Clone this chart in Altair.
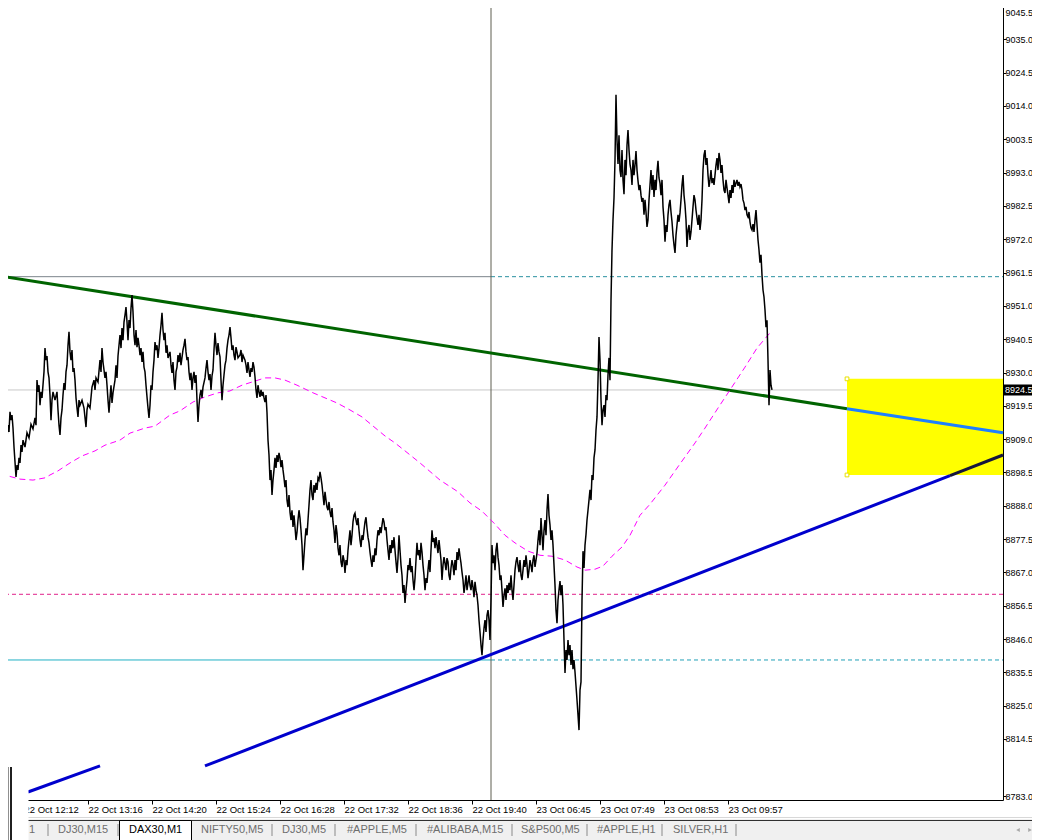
import altair as alt
import pandas as pd

# ---------------- data ----------------
# DAX30 M1 close prices: (bar index, price)
M1_CLOSE = [
    (0, 8909.4), (1, 8905.0), (2, 8907.4), (3, 8906.2), (4, 8910.0), (5, 8908.1), (6, 8911.9), (7, 8909.7),
    (8, 8913.4), (9, 8911.3), (10, 8917.6), (11, 8915.0), (12, 8916.6), (13, 8912.5), (14, 8906.5), (15, 8901.8),
    (16, 8897.1), (17, 8900.8), (18, 8899.3), (19, 8903.1), (20, 8901.5), (21, 8907.1), (22, 8905.0), (23, 8908.7),
    (25, 8906.5), (27, 8911.0), (29, 8909.4), (31, 8913.7), (33, 8912.2), (35, 8915.7), (36, 8913.4), (37, 8927.6),
    (38, 8923.9), (39, 8926.0), (40, 8919.7), (41, 8923.9), (42, 8922.0), (44, 8930.2), (45, 8937.7), (46, 8933.9),
    (47, 8935.2), (48, 8930.2), (49, 8928.3), (50, 8922.9), (51, 8915.0), (52, 8921.3), (53, 8923.9), (55, 8921.3),
    (57, 8923.9), (58, 8918.2), (59, 8913.4), (60, 8910.3), (61, 8915.7), (62, 8918.2), (63, 8922.9), (64, 8926.7),
    (65, 8924.5), (66, 8930.2), (67, 8932.3), (68, 8938.6), (69, 8942.8), (70, 8936.5), (71, 8933.9), (72, 8937.1),
    (73, 8930.2), (74, 8931.4), (75, 8927.6), (76, 8922.0), (77, 8918.8), (78, 8916.0), (79, 8921.3), (80, 8919.7),
    (82, 8921.3), (84, 8918.8), (86, 8912.8), (87, 8918.2), (88, 8920.0), (90, 8918.8), (92, 8925.4), (94, 8927.6),
    (95, 8924.5), (96, 8928.3), (98, 8927.0), (100, 8933.9), (101, 8930.2), (102, 8937.7), (103, 8933.3), (105, 8928.3),
    (106, 8930.2), (107, 8926.0), (108, 8921.3), (109, 8917.3), (110, 8922.0), (111, 8926.0), (112, 8920.4), (113, 8923.6),
    (115, 8927.6), (116, 8932.3), (117, 8928.3), (118, 8935.2), (119, 8938.6), (120, 8941.8), (121, 8937.7), (122, 8944.0),
    (123, 8940.2), (124, 8945.9), (125, 8948.1), (126, 8950.6), (127, 8945.9), (128, 8940.2), (129, 8946.5), (130, 8944.0),
    (131, 8950.3), (132, 8954.4), (133, 8949.1), (134, 8941.8), (135, 8938.6), (136, 8943.4), (137, 8938.0), (138, 8940.9),
    (139, 8938.6), (140, 8935.5), (141, 8937.7), (142, 8933.3), (143, 8936.5), (144, 8931.7), (145, 8930.2), (146, 8926.0),
    (147, 8922.3), (148, 8918.8), (149, 8915.7), (150, 8919.7), (151, 8926.0), (152, 8924.5), (153, 8930.2), (154, 8933.9),
    (155, 8939.6), (156, 8937.1), (157, 8938.6), (158, 8934.6), (159, 8937.7), (160, 8941.8), (161, 8944.9), (162, 8948.8),
    (163, 8943.4), (164, 8940.2), (165, 8942.5), (166, 8936.2), (167, 8938.6), (168, 8934.6), (170, 8936.5), (171, 8932.3),
    (172, 8929.9), (173, 8933.3), (174, 8927.6), (175, 8924.5), (176, 8930.2), (177, 8931.7), (178, 8935.5), (179, 8933.3),
    (180, 8936.2), (181, 8932.3), (183, 8937.1), (184, 8938.6), (185, 8940.6), (186, 8936.5), (187, 8933.9), (188, 8934.9),
    (189, 8930.2), (190, 8927.6), (191, 8929.9), (192, 8924.5), (193, 8928.3), (194, 8930.2), (195, 8926.7), (196, 8929.2),
    (197, 8921.3), (198, 8914.4), (199, 8919.7), (200, 8922.9), (201, 8924.5), (202, 8922.0), (203, 8925.4), (205, 8928.3),
    (206, 8931.4), (207, 8933.9), (208, 8930.2), (209, 8927.6), (210, 8929.5), (211, 8924.5), (212, 8928.9), (213, 8930.8),
    (214, 8937.1), (215, 8942.5), (216, 8938.6), (217, 8935.5), (218, 8939.3), (219, 8936.5), (220, 8934.9), (221, 8927.6),
    (222, 8921.3), (223, 8926.0), (224, 8929.2), (225, 8932.3), (226, 8933.9), (227, 8937.7), (228, 8940.2), (229, 8941.8),
    (230, 8944.3), (231, 8940.9), (232, 8937.1), (233, 8938.6), (234, 8935.5), (235, 8933.9), (236, 8938.0), (237, 8936.5),
    (238, 8934.6), (240, 8935.5), (241, 8937.1), (242, 8933.3), (243, 8935.5), (245, 8933.9), (246, 8932.3), (247, 8929.9),
    (248, 8933.3), (249, 8930.8), (250, 8928.6), (251, 8931.4), (252, 8930.2), (253, 8933.3), (254, 8931.7), (255, 8928.6),
    (256, 8924.5), (257, 8922.0), (258, 8926.0), (259, 8923.9), (260, 8922.3), (261, 8924.5), (262, 8922.6), (263, 8923.9),
    (264, 8922.0), (265, 8920.7), (266, 8922.9), (267, 8917.3), (268, 8908.7), (269, 8904.0), (270, 8896.1), (271, 8899.3),
    (272, 8891.4), (273, 8896.1), (274, 8899.3), (275, 8903.1), (276, 8899.9), (277, 8904.0), (278, 8901.8), (279, 8904.7),
    (280, 8903.1), (281, 8900.2), (282, 8902.4), (283, 8899.3), (284, 8896.8), (285, 8893.9), (286, 8896.1), (287, 8889.8),
    (288, 8887.6), (289, 8891.4), (290, 8886.0), (291, 8883.5), (292, 8886.6), (293, 8881.3), (294, 8885.0), (295, 8881.3),
    (296, 8877.2), (297, 8879.7), (298, 8883.5), (299, 8886.6), (300, 8884.1), (301, 8880.3), (302, 8875.6), (303, 8867.7),
    (304, 8872.4), (305, 8877.2), (306, 8880.9), (307, 8878.7), (308, 8883.5), (309, 8888.2), (310, 8893.0), (311, 8896.1),
    (312, 8891.4), (313, 8889.8), (314, 8894.5), (315, 8892.1), (316, 8895.2), (317, 8893.0), (318, 8896.8), (319, 8896.1),
    (320, 8898.7), (321, 8896.8), (322, 8894.5), (323, 8891.4), (324, 8888.2), (325, 8892.4), (326, 8889.8), (327, 8887.6),
    (328, 8886.6), (329, 8889.2), (330, 8886.0), (331, 8884.4), (332, 8887.3), (333, 8882.9), (334, 8880.3), (335, 8876.3),
    (336, 8881.9), (337, 8879.4), (338, 8874.6), (339, 8872.4), (340, 8875.6), (341, 8870.3), (342, 8868.7), (343, 8872.4),
    (344, 8870.9), (345, 8866.8), (346, 8870.9), (347, 8869.3), (348, 8874.0), (349, 8877.2), (350, 8880.3), (351, 8875.6),
    (352, 8878.7), (353, 8882.9), (354, 8885.0), (355, 8885.7), (356, 8883.5), (357, 8881.9), (358, 8884.1), (359, 8880.3),
    (360, 8877.2), (361, 8875.0), (362, 8878.7), (363, 8877.2), (364, 8880.3), (365, 8882.9), (366, 8884.4), (367, 8880.9),
    (368, 8878.1), (369, 8876.3), (370, 8873.4), (371, 8870.9), (372, 8868.7), (373, 8872.4), (374, 8870.3), (375, 8874.6),
    (376, 8872.4), (377, 8877.2), (378, 8880.3), (379, 8878.7), (380, 8881.3), (381, 8879.4), (382, 8881.9), (383, 8884.1),
    (384, 8882.9), (385, 8880.3), (386, 8881.3), (387, 8877.2), (388, 8874.0), (389, 8870.9), (390, 8875.6), (391, 8873.1),
    (392, 8877.2), (393, 8874.6), (394, 8878.1), (395, 8874.0), (396, 8870.3), (397, 8866.8), (398, 8871.5), (399, 8878.7),
    (400, 8874.0), (401, 8869.3), (402, 8866.1), (403, 8860.5), (404, 8863.0), (405, 8857.4), (406, 8861.4), (407, 8864.6),
    (408, 8869.3), (409, 8867.7), (410, 8871.5), (411, 8867.1), (412, 8869.0), (413, 8864.6), (414, 8861.4), (415, 8865.2),
    (416, 8870.9), (417, 8876.3), (418, 8872.4), (419, 8874.0), (420, 8870.9), (421, 8876.3), (422, 8873.4), (423, 8869.3),
    (424, 8866.1), (425, 8861.4), (426, 8865.2), (427, 8863.7), (428, 8867.7), (429, 8870.9), (430, 8867.1), (431, 8874.0),
    (432, 8880.3), (433, 8876.6), (434, 8877.8), (435, 8874.6), (436, 8878.1), (437, 8875.6), (438, 8873.1), (439, 8877.2),
    (440, 8874.0), (441, 8870.9), (442, 8864.6), (443, 8869.3), (444, 8871.8), (445, 8869.9), (446, 8867.7), (447, 8871.5),
    (448, 8870.3), (449, 8866.1), (450, 8864.6), (451, 8868.4), (452, 8870.9), (453, 8869.3), (454, 8866.1), (455, 8870.9),
    (456, 8867.7), (457, 8873.4), (458, 8870.9), (459, 8874.6), (460, 8872.1), (461, 8869.9), (462, 8867.1), (463, 8864.6),
    (464, 8860.5), (465, 8863.0), (466, 8866.1), (467, 8861.4), (468, 8863.7), (469, 8866.1), (470, 8863.0), (471, 8861.4),
    (472, 8864.6), (473, 8862.4), (474, 8859.2), (475, 8864.0), (476, 8861.4), (477, 8859.8), (478, 8856.7), (479, 8852.0),
    (480, 8848.2), (481, 8844.1), (482, 8840.9), (483, 8845.7), (484, 8849.4), (485, 8852.0), (486, 8848.2), (487, 8853.5),
    (488, 8855.1), (489, 8852.0), (490, 8845.7), (491, 8858.3), (492, 8875.6), (493, 8869.9), (494, 8872.4), (495, 8867.7),
    (496, 8874.0), (497, 8876.3), (498, 8871.8), (499, 8869.3), (500, 8864.6), (501, 8866.1), (502, 8861.4), (503, 8856.1),
    (504, 8859.8), (505, 8862.0), (506, 8858.3), (507, 8863.0), (508, 8860.5), (509, 8863.7), (510, 8861.4), (511, 8866.1),
    (512, 8861.4), (513, 8858.3), (514, 8863.0), (515, 8867.7), (516, 8870.3), (517, 8871.8), (518, 8869.3), (519, 8867.1),
    (520, 8870.9), (521, 8866.1), (522, 8864.6), (523, 8867.7), (524, 8870.9), (525, 8868.7), (526, 8872.4), (527, 8869.3),
    (528, 8865.2), (529, 8867.7), (530, 8870.9), (531, 8869.3), (532, 8867.1), (533, 8870.9), (534, 8872.4), (535, 8868.7),
    (536, 8870.9), (537, 8873.1), (538, 8877.2), (539, 8880.3), (540, 8875.6), (541, 8884.1), (542, 8878.7), (543, 8874.0),
    (544, 8880.3), (545, 8883.5), (546, 8878.7), (547, 8886.6), (548, 8891.7), (549, 8885.0), (550, 8881.9), (551, 8877.2),
    (552, 8880.3), (553, 8875.6), (554, 8869.3), (555, 8863.0), (556, 8855.1), (557, 8851.0), (558, 8858.3), (559, 8861.4),
    (560, 8864.3), (561, 8859.8), (562, 8863.0), (563, 8856.7), (564, 8845.7), (565, 8835.3), (566, 8842.5), (567, 8839.4),
    (568, 8845.7), (569, 8840.9), (570, 8844.1), (571, 8837.8), (572, 8842.5), (573, 8836.5), (574, 8839.4), (575, 8835.6),
    (576, 8831.2), (577, 8826.8), (578, 8822.1), (579, 8817.3), (580, 8829.9), (581, 8832.5), (582, 8858.3), (583, 8873.7),
    (584, 8868.4), (585, 8875.6), (586, 8879.0), (587, 8883.5), (588, 8886.6), (589, 8889.8), (590, 8893.0), (591, 8889.8),
    (592, 8897.7), (593, 8896.1), (594, 8903.1), (595, 8905.6), (596, 8911.9), (597, 8916.0), (598, 8927.6), (599, 8941.2),
    (600, 8933.9), (601, 8921.3), (602, 8913.4), (603, 8918.2), (604, 8919.7), (605, 8916.0), (606, 8922.9), (607, 8921.3),
    (608, 8929.2), (609, 8934.6), (610, 8927.6), (611, 8952.8), (612, 8968.6), (613, 8978.1), (614, 8985.0), (615, 8997.0),
    (616, 9017.5), (617, 9003.3), (618, 8995.7), (619, 9004.8), (620, 8993.8), (621, 8991.6), (622, 9000.1), (623, 8990.7),
    (624, 8986.2), (625, 8997.0), (626, 8992.2), (627, 9001.7), (628, 9006.4), (629, 9000.1), (630, 8995.7), (631, 8993.8),
    (632, 8989.1), (633, 8997.0), (634, 8992.2), (635, 8995.4), (636, 8999.8), (637, 8993.8), (638, 8990.4), (639, 8987.5),
    (640, 8989.1), (641, 8985.9), (642, 8983.8), (643, 8985.0), (644, 8979.7), (645, 8984.4), (646, 8980.6), (647, 8975.9),
    (648, 8978.1), (649, 8984.4), (650, 8989.1), (651, 8993.8), (652, 8987.5), (653, 8992.2), (654, 8985.3), (655, 8990.7),
    (656, 8987.5), (657, 8993.2), (658, 8996.7), (659, 8991.3), (660, 8989.7), (661, 8985.9), (662, 8990.7), (663, 8982.2),
    (664, 8978.1), (665, 8971.2), (666, 8976.5), (667, 8974.3), (668, 8979.7), (669, 8982.8), (670, 8984.4), (671, 8980.6),
    (672, 8977.5), (673, 8973.3), (674, 8970.2), (675, 8967.7), (676, 8973.3), (677, 8976.5), (678, 8979.7), (679, 8977.5),
    (680, 8980.3), (681, 8984.4), (682, 8989.1), (683, 8992.2), (684, 8985.9), (685, 8982.8), (686, 8978.1), (687, 8969.6),
    (688, 8974.9), (689, 8976.5), (690, 8971.8), (691, 8974.3), (692, 8978.1), (693, 8982.2), (694, 8985.9), (695, 8984.4),
    (696, 8981.2), (697, 8978.7), (698, 8976.5), (699, 8979.7), (700, 8974.9), (701, 8978.1), (702, 8984.4), (703, 8993.8),
    (704, 8998.5), (705, 9000.1), (706, 8995.4), (707, 8997.6), (708, 8992.2), (709, 8988.5), (710, 8990.7), (711, 8993.8),
    (712, 8989.7), (713, 8991.3), (714, 8989.1), (715, 8992.2), (716, 8995.4), (717, 8997.6), (718, 8993.8), (719, 8999.2),
    (720, 8997.0), (721, 8992.9), (722, 8995.4), (723, 8990.7), (724, 8987.5), (725, 8986.6), (726, 8990.7), (727, 8988.2),
    (728, 8985.9), (729, 8983.4), (730, 8987.5), (731, 8985.0), (732, 8989.1), (733, 8986.6), (734, 8990.7), (735, 8988.5),
    (736, 8989.7), (737, 8990.7), (738, 8988.8), (739, 8990.1), (740, 8988.5), (741, 8989.4), (742, 8987.5), (743, 8984.4),
    (744, 8983.4), (745, 8981.2), (746, 8982.2), (747, 8979.7), (748, 8979.0), (749, 8980.6), (750, 8977.5), (751, 8975.6),
    (752, 8974.9), (753, 8976.8), (754, 8974.3), (755, 8978.1), (756, 8981.2), (757, 8976.5), (758, 8971.8), (759, 8968.6),
    (760, 8964.6), (761, 8967.1), (762, 8960.7), (763, 8956.0), (764, 8953.8), (765, 8949.7), (766, 8944.3), (767, 8946.5),
    (768, 8933.9), (769, 8919.7), (770, 8930.8), (771, 8926.0), (772, 8924.5),
]

# moving average (magenta, dashed)
MA_BAR = [0, 8, 20, 33, 45, 50, 58, 70, 82, 95, 105, 120, 130, 145, 155, 170, 180, 193, 205, 218,
          230, 242, 255, 265, 275, 285, 297, 313, 325, 337, 350, 362, 372, 385, 395, 405, 420, 440,
          458, 470, 482, 495, 505, 515, 528, 540, 552, 565, 577, 585, 595, 603, 612, 622, 630, 640,
          650, 665, 680, 695, 705, 718, 730, 745, 757, 770]
MA_VAL = [8898.0, 8897.4, 8896.4, 8896.1, 8896.8, 8897.7, 8899.0, 8901.5, 8903.7, 8905.3, 8907.1,
          8908.7, 8910.9, 8912.5, 8913.1, 8916.6, 8917.9, 8920.7, 8922.3, 8923.6, 8924.2, 8926.0,
          8927.3, 8928.3, 8928.3, 8927.6, 8926.0, 8923.6, 8922.0, 8920.4, 8918.2, 8916.0, 8913.4,
          8910.0, 8907.8, 8905.3, 8901.5, 8896.1, 8892.4, 8888.9, 8886.3, 8882.2, 8878.7, 8876.3,
          8873.7, 8872.4, 8872.1, 8870.9, 8868.7, 8867.7, 8868.0, 8869.0, 8872.1, 8875.0, 8878.7,
          8885.0, 8888.5, 8894.5, 8901.2, 8907.8, 8912.5, 8918.8, 8924.5, 8931.7, 8937.7, 8942.5]

# trend lines: (bar, price) end points
GREEN_TREND = [(0, 8960.4), (847, 8918.6)]
GREEN_TREND_IN_BOX = [(847, 8918.6), (1003, 8911.0)]
BLUE_TREND_SHORT = [(28, 8797.8), (100, 8806.0)]
BLUE_TREND = [(205, 8806.0), (950, 8897.5)]
BLUE_TREND_IN_BOX = [(950, 8897.5), (1003, 8904.0)]

# horizontal levels
LEVEL_TEAL = 8960.2
LEVEL_PINK = 8860.1
LEVEL_CYAN = 8839.4
CURRENT_PRICE = 8924.5
VLINE_BAR = 491

# yellow zone
ZONE_BAR = [847, 1003]
ZONE_PRICE = [8928.0, 8897.7]

# axes
Y_TICKS = [9045.5, 9035.0, 9024.5, 9014.0, 9003.5, 8993.0, 8982.5, 8972.0, 8961.5, 8951.0, 8940.5,
           8930.0, 8919.5, 8909.0, 8898.5, 8888.0, 8877.5, 8867.0, 8856.5, 8846.0, 8835.5, 8825.0,
           8814.5, 8796.5]
BOTTOM_LABEL = "8783.0"
X_TICK_BARS = [24, 88, 152, 216, 280, 344, 408, 472, 536, 600, 664, 728]
X_TICK_LABELS = ["22 Oct 12:12", "22 Oct 13:16", "22 Oct 14:20", "22 Oct 15:24", "22 Oct 16:28",
                 "22 Oct 17:32", "22 Oct 18:36", "22 Oct 19:40", "23 Oct 06:45", "23 Oct 07:49",
                 "23 Oct 08:53", "23 Oct 09:57"]

# tab strip
TABS = ["1", "DJ30,M15", "DAX30,M1", "NIFTY50,M5", "DJ30,M5", "#APPLE,M5", "#ALIBABA,M15",
        "S&P500,M5", "#APPLE,H1", "SILVER,H1"]
ACTIVE_TAB = "DAX30,M1"

# ---------------- layout (pixels) ----------------
W, H = 1003, 800
TAB_X = [29, 58, 129, 201, 282, 347, 427, 521, 597, 673]
SEP_X = [48, 118, 272, 335, 416, 512, 587, 662, 736]
FONT_AX = "Liberation Sans, Arial"
FONT_TAB = "Liberation Sans, Arial"

xs = alt.Scale(domain=[0, W], nice=False, zero=False)
ys = alt.Scale(domain=[8795.27, 9047.4], nice=False, zero=False)

x_label_expr = "[" + ",".join("'%s'" % s for s in X_TICK_LABELS) + "][indexof([" + \
    ",".join(str(v) for v in X_TICK_BARS) + "], datum.value)]"
y_label_expr = "datum.value < 8800 ? '%s' : format(datum.value, '.1f')" % BOTTOM_LABEL

x_axis = alt.Axis(values=X_TICK_BARS, labelExpr=x_label_expr, orient="bottom", domainColor="black",
                  domainWidth=1, tickColor="black", tickSize=4, tickWidth=1, labelAlign="left",
                  labelBaseline="middle", labelPadding=5, labelFont=FONT_AX, labelFontSize=9.5,
                  labelColor="black", labelFlush=False, labelOverlap=False, grid=False, title=None,
                  labelAngle=0)
y_axis = alt.Axis(values=Y_TICKS, labelExpr=y_label_expr, orient="right", domainColor="black",
                  domainWidth=1, tickColor="black", tickSize=3, tickWidth=1, labelAlign="left",
                  labelBaseline="middle", labelPadding=-1, labelFont=FONT_AX, labelFontSize=9,
                  labelOffset={"condition": {"test": "datum.value > 9040", "value": 6}, "value": 0},
                  labelColor="black", labelFlush=False, labelOverlap=False, grid=False, title=None)

one = pd.DataFrame({"k": [0]})


def seg_df(points):
    return pd.DataFrame(points, columns=["bar", "price"])


def XD(v):
    return alt.XDatum(v, scale=xs, axis=x_axis)


def YD(v):
    return alt.YDatum(v, scale=ys, axis=y_axis)


def XF(f):
    return alt.X(f, scale=xs, axis=x_axis)


def YF(f):
    return alt.Y(f, scale=ys, axis=y_axis)


# reference lines
cur_line = alt.Chart(one).mark_rule(color="#C8C8C8", strokeWidth=1).encode(y=YD(CURRENT_PRICE))
pink_line = alt.Chart(one).mark_rule(color="#E0208A", strokeWidth=1, strokeDash=[4, 3]).encode(
    y=YD(LEVEL_PINK))
teal_solid = alt.Chart(one).mark_rule(color="#7C848C", strokeWidth=1).encode(
    x=XD(0), x2=alt.datum(VLINE_BAR), y=YD(LEVEL_TEAL))
teal_dash = alt.Chart(one).mark_rule(color="#2A90A0", strokeWidth=1, strokeDash=[4, 3]).encode(
    x=XD(VLINE_BAR), x2=alt.datum(W), y=YD(LEVEL_TEAL))
cyan_solid = alt.Chart(one).mark_rule(color="#20B0C4", strokeWidth=1).encode(
    x=XD(0), x2=alt.datum(VLINE_BAR), y=YD(LEVEL_CYAN))
cyan_dash = alt.Chart(one).mark_rule(color="#20A0B8", strokeWidth=1, strokeDash=[4, 3]).encode(
    x=XD(VLINE_BAR), x2=alt.datum(W), y=YD(LEVEL_CYAN))
v_line = alt.Chart(one).mark_rule(color="#5E5E50", strokeWidth=1).encode(x=XD(VLINE_BAR))

# yellow zone
zone = alt.Chart(pd.DataFrame({"x1": [ZONE_BAR[0]], "x2": [ZONE_BAR[1]],
                               "p1": [ZONE_PRICE[0]], "p2": [ZONE_PRICE[1]]})).mark_rect(
    color="#FFFF00").encode(x=XF("x1:Q"), x2="x2:Q", y=YF("p1:Q"), y2="p2:Q")
handles = alt.Chart(pd.DataFrame({"bar": [ZONE_BAR[0], ZONE_BAR[0]], "price": ZONE_PRICE})).mark_point(
    shape="square", size=14, filled=True, fill="white", stroke="#E8E000", strokeWidth=1, opacity=1).encode(
    x=XF("bar:Q"), y=YF("price:Q"))


def trend(points, color, width=3):
    return alt.Chart(seg_df(points)).mark_line(color=color, strokeWidth=width, strokeCap="butt").encode(
        x=XF("bar:Q"), y=YF("price:Q"))


green1 = trend(GREEN_TREND, "#006400")
green2 = trend(GREEN_TREND_IN_BOX, "#1E7FFF")
blue0 = trend(BLUE_TREND_SHORT, "#0000CD")
blue1 = trend(BLUE_TREND, "#0000CD")
blue2 = trend(BLUE_TREND_IN_BOX, "#16163C")

ma = alt.Chart(pd.DataFrame({"bar": MA_BAR, "price": MA_VAL})).mark_line(
    color="#FF00FF", strokeWidth=1, strokeDash=[6, 4]).encode(x=XF("bar:Q"), y=YF("price:Q"))

price = alt.Chart(seg_df(M1_CLOSE)).mark_line(color="black", strokeWidth=1.5).encode(
    x=XF("bar:Q"), y=YF("price:Q"))

# current price tag on the axis
tag_box = alt.Chart(pd.DataFrame({"hi": [CURRENT_PRICE + 1.75], "lo": [CURRENT_PRICE - 1.75]})).mark_rect(
    color="black").encode(x=alt.value(W + 1), x2=alt.value(W + 38), y=YF("hi:Q"), y2="lo:Q")
tag_txt = alt.Chart(pd.DataFrame({"p": [CURRENT_PRICE], "t": [f"{CURRENT_PRICE:.1f}"]})).mark_text(
    color="white", align="left", baseline="middle", font=FONT_AX, fontSize=9).encode(
    x=alt.value(W + 2), y=YF("p:Q"), text="t:N")

# tab strip
strip_bg = alt.Chart(one).mark_rect(color="#F0F0F0").encode(
    x=alt.value(0), x2=alt.value(1041), y=alt.value(819), y2=alt.value(841))
strip_top_light = alt.Chart(one).mark_rule(color="#D8D8D8", strokeWidth=1).encode(
    x=alt.value(0), x2=alt.value(1041), y=alt.value(817.5))
strip_top_dark = alt.Chart(one).mark_rule(color="#303030", strokeWidth=1).encode(
    x=alt.value(0), x2=alt.value(1041), y=alt.value(820.5))
active_box = alt.Chart(one).mark_rect(fill="white", stroke="black", strokeWidth=1).encode(
    x=alt.value(119.5), x2=alt.value(191.5), y=alt.value(820.5), y2=alt.value(845))
tabs_df = pd.DataFrame({"t": TABS, "x": TAB_X,
                        "c": ["black" if t == ACTIVE_TAB else "#6E6E6E" for t in TABS]})
tab_text = alt.Chart(tabs_df).mark_text(align="left", baseline="middle", font=FONT_TAB, fontSize=11).encode(
    x=alt.X("x:Q", scale=None), y=alt.value(830), text="t:N", color=alt.Color("c:N", scale=None))
seps = alt.Chart(pd.DataFrame({"x": SEP_X})).mark_rule(color="#8A8A8A", strokeWidth=1).encode(
    x=alt.X("x:Q", scale=None), y=alt.value(824), y2=alt.value(836))
arrows = alt.Chart(pd.DataFrame({"x": [1018, 1030], "s": ["triangle-left", "triangle-right"]})).mark_point(
    filled=True, size=18, color="#A8A8A8", opacity=1).encode(
    x=alt.X("x:Q", scale=None), y=alt.value(830), shape=alt.Shape("s:N", scale=None))

# panel edge at bottom-left
panel = alt.Chart(one).mark_rect(color="white").encode(
    x=alt.value(0), x2=alt.value(28.5), y=alt.value(767), y2=alt.value(841))
panel_l1 = alt.Chart(one).mark_rule(color="#909090", strokeWidth=1).encode(
    x=alt.value(8.5), y=alt.value(767), y2=alt.value(841))
panel_l3 = alt.Chart(one).mark_rule(color="#202020", strokeWidth=2).encode(
    x=alt.value(11), y=alt.value(767), y2=alt.value(841))

chart = alt.layer(
    cur_line, pink_line, teal_solid, teal_dash, cyan_solid, cyan_dash, v_line,
    zone, handles,
    green1, green2, blue0, blue1, blue2,
    ma, price,
    tag_box, tag_txt,
    strip_bg, strip_top_light, strip_top_dark, active_box, tab_text, seps, arrows,
    panel, panel_l1, panel_l3,
).properties(
    width=W, height=H,
    autosize=alt.AutoSizeParams(type="none"),
    padding={"left": -8, "top": -8, "right": 29, "bottom": 40},
    background="white",
).configure_view(stroke=None)

chart.save("out.html", embed_options={"renderer": "svg", "actions": False})
